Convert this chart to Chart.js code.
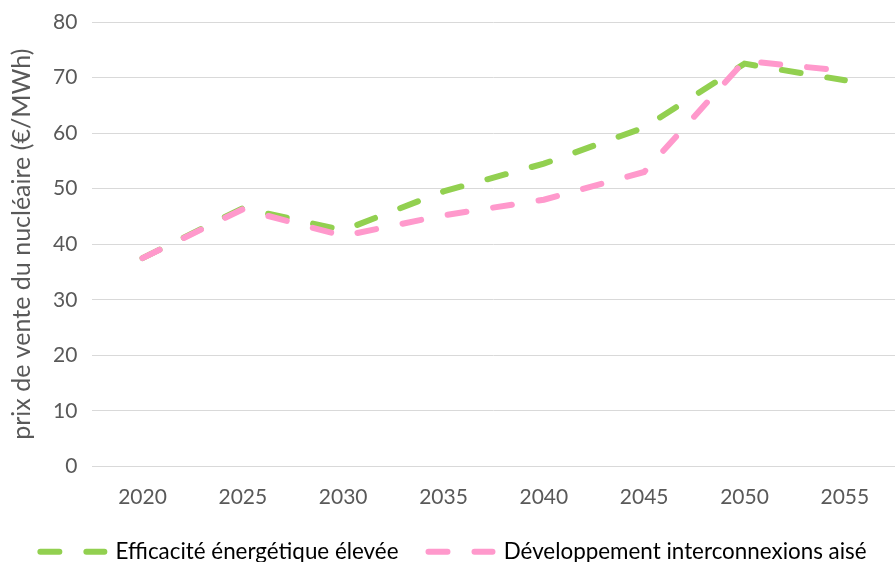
<!DOCTYPE html>
<html>
<head>
<meta charset="utf-8">
<script src="https://cdn.jsdelivr.net/npm/chart.js@4/dist/chart.umd.min.js"></script>
<style>
  html, body { margin: 0; padding: 0; background: #fff; }
  #wrap { width: 895px; height: 562px; position: relative; }
</style>
</head>
<body>
<div id="wrap"><canvas id="chart"></canvas></div>
<script>
// ── Data ──────────────────────────────────────
const years      = ['2020', '2025', '2030', '2035', '2040', '2045', '2050', '2055'];
const efficacite = [37.5, 46.5, 42.5, 49.5, 54.5, 61, 72.5, 69.5];
const intercon   = [37.5, 46.3, 41.5, 45.2, 48, 53, 73, 71.2];
const yTicks     = [0, 10, 20, 30, 40, 50, 60, 70, 80];

const FONT  = "Lato, 'Open Sans', sans-serif";
const GREEN = '#92D050';
const PINK  = '#FF99CC';
const GREY  = '#595959';
const DASH  = [19, 27];

// pink sits on top of green, legend keeps green first
const legendOrder = [
  { text: 'Efficacité énergétique élevée', color: GREEN, idx: 1 },
  { text: 'Développement interconnexions aisé', color: PINK, idx: 0 }
];

new Chart(document.getElementById('chart'), {
  type: 'line',
  data: {
    labels: years,
    datasets: [
      { label: 'Développement interconnexions aisé', data: intercon,
        borderColor: PINK, backgroundColor: PINK, borderWidth: 6,
        borderDash: DASH, borderCapStyle: 'round', pointRadius: 0, tension: 0 },
      { label: 'Efficacité énergétique élevée', data: efficacite,
        borderColor: GREEN, backgroundColor: GREEN, borderWidth: 6,
        borderDash: DASH, borderCapStyle: 'round', pointRadius: 0, tension: 0 }
    ]
  },
  options: {
    responsive: true,
    maintainAspectRatio: false,
    animation: false,
    layout: { padding: { left: 6, right: -6, top: 0, bottom: -11 } },
    plugins: {
      tooltip: { enabled: false },
      legend: {
        position: 'bottom',
        labels: {
          color: GREY,
          font: { family: FONT, size: 22.4 },
          usePointStyle: true,
          pointStyleWidth: 64,
          boxHeight: 6,
          padding: 30,
          generateLabels: () => legendOrder.map(l => ({
            text: l.text, fillStyle: l.color, strokeStyle: l.color,
            lineWidth: 6, lineCap: 'round', lineDash: DASH,
            pointStyle: 'line', datasetIndex: l.idx, hidden: false
          }))
        }
      }
    },
    scales: {
      x: {
        offset: true,
        afterFit: s => { s.height -= 17; },
        grid: { display: false, drawTicks: false },
        border: { color: '#D9D9D9', width: 1 },
        ticks: { color: GREY, font: { family: FONT, size: 21 }, padding: 18 }
      },
      y: {
        min: 0, max: 80,
        afterBuildTicks: axis => { axis.ticks = yTicks.map(v => ({ value: v })); },
        afterFit: s => { s.paddingTop = 22; },
        grid: { color: '#D9D9D9', lineWidth: 1, drawTicks: false },
        border: { display: false },
        ticks: { color: GREY, font: { family: FONT, size: 21 }, padding: 15 },
        title: { display: true, text: 'prix de vente du nucléaire (€/MWh)',
                 color: GREY, font: { family: FONT, size: 25 }, padding: 1 }
      }
    }
  }
});
</script>
</body>
</html>
